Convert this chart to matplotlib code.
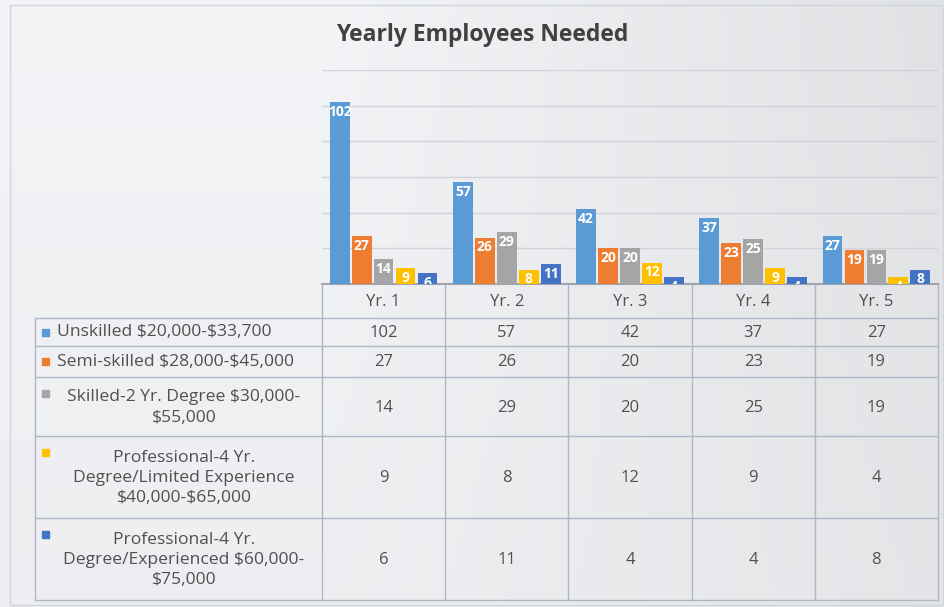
import numpy as np
import matplotlib.pyplot as plt
from matplotlib.patches import Rectangle

years = ['Yr. 1', 'Yr. 2', 'Yr. 3', 'Yr. 4', 'Yr. 5']
series_names = ['Unskilled $20,000-$33,700',
                'Semi-skilled $28,000-$45,000',
                'Skilled-2 Yr. Degree $30,000-\n$55,000',
                'Professional-4 Yr.\nDegree/Limited Experience\n$40,000-$65,000',
                'Professional-4 Yr.\nDegree/Experienced $60,000-\n$75,000']
unskilled = [102, 57, 42, 37, 27]
semi_skilled = [27, 26, 20, 23, 19]
skilled = [14, 29, 20, 25, 19]
prof_limited = [9, 8, 12, 9, 4]
prof_experienced = [6, 11, 4, 4, 8]
values = [unskilled, semi_skilled, skilled, prof_limited, prof_experienced]
colors = ['#5b9bd5', '#ed7d31', '#a5a5a5', '#ffc000', '#4472c4']

plt.rcParams['font.family'] = ['Open Sans', 'DejaVu Sans']
plt.rcParams['text.parse_math'] = False

W, H = 945, 607
fig = plt.figure(figsize=(W/100, H/100), dpi=100)

# background axes in pixel coords
bg = fig.add_axes([0, 0, 1, 1])
bg.set_xlim(0, W)
bg.set_ylim(H, 0)
bg.axis('off')
gx = np.linspace(0, 1, 200)
gy = np.linspace(0, 1, 200)
GX, GY = np.meshgrid(gx, gy)
shade = 0.965 - 0.11*np.clip(GX - 0.35, 0, 1)*(1 - 0.5*GY) - 0.02*GY
img = np.dstack([shade*0.985, shade*0.99, shade*1.0])
bg.imshow(np.clip(img, 0, 1), extent=(0, W, H, 0), aspect='auto', zorder=0)
bg.add_patch(Rectangle((10, 5), 933, 600, fill=False, ec='#d0d4dc', lw=1, zorder=1))

bg.text(482, 35, 'Yearly Employees Needed', ha='center', va='center',
        fontsize=16.5, fontweight='bold', color='#404040', zorder=3)

# table
x0, xl, xr = 35, 322, 938
col_w = (xr - xl) / len(years)
rows = [284, 318, 346, 377, 436, 518, 600]
lc = '#b0b6c8'
tc = '#505050'
for y in rows[1:]:
    bg.plot([x0, xr], [y, y], color=lc, lw=1, zorder=2)
bg.plot([x0, x0], [rows[1], rows[-1]], color=lc, lw=1, zorder=2)
for i in range(len(years) + 1):
    bg.plot([xl + i*col_w]*2, [rows[0], rows[-1]], color=lc, lw=1, zorder=2)
for i, yr in enumerate(years):
    bg.text(xl + (i + 0.5)*col_w, (rows[0] + rows[1])/2 + 1, yr, ha='center',
            va='center', fontsize=12, color=tc, zorder=3)
for r, (name, vals, c) in enumerate(zip(series_names, values, colors)):
    top, bot = rows[r + 1], rows[r + 2]
    yc = (top + bot) / 2
    nlines = name.count('\n') + 1
    key_y = yc if nlines == 1 else top + 16
    bg.add_patch(Rectangle((42, key_y - 3.5), 7, 7, color=c, zorder=3))
    if r < 2:
        bg.text(57, yc, name, ha='left', va='center', fontsize=12.6, color=tc, zorder=3)
    else:
        bg.text(184, yc + 1, name, ha='center', va='center', fontsize=12.6, color=tc,
                multialignment='center', linespacing=1.35, zorder=3)
    for i, v in enumerate(vals):
        bg.text(xl + (i + 0.5)*col_w, yc + 1, str(v), ha='center', va='center',
                fontsize=12, color=tc, zorder=3)

# bar chart
ax = fig.add_axes([xl/W, 1 - rows[0]/H, (xr - xl)/W, (rows[0] - 70)/H])
ax.patch.set_alpha(0)
x = np.arange(len(years))
bw = 0.178
for k, (vals, c) in enumerate(zip(values, colors)):
    pos = x - 2*bw + k*bw
    ax.bar(pos, vals, width=bw*0.9, color=c, zorder=3)
    for p, v in zip(pos, vals):
        ax.text(p, v - 1.5, str(v), ha='center', va='top', fontsize=10,
                fontweight='bold', color='white', zorder=4, clip_on=True)
ax.set_xlim(-0.5, len(years) - 0.5)
ax.set_ylim(0, 120)
ax.set_yticks(np.arange(0, 121, 20))
ax.yaxis.grid(True, color='#d0d3d9', lw=1)
ax.tick_params(left=False, bottom=False, labelleft=False, labelbottom=False)
for s in ['top', 'right', 'left']:
    ax.spines[s].set_visible(False)
ax.spines['bottom'].set_color('#a0a4ac')
ax.spines['bottom'].set_linewidth(1.5)

fig.savefig('out.png', dpi=100)
